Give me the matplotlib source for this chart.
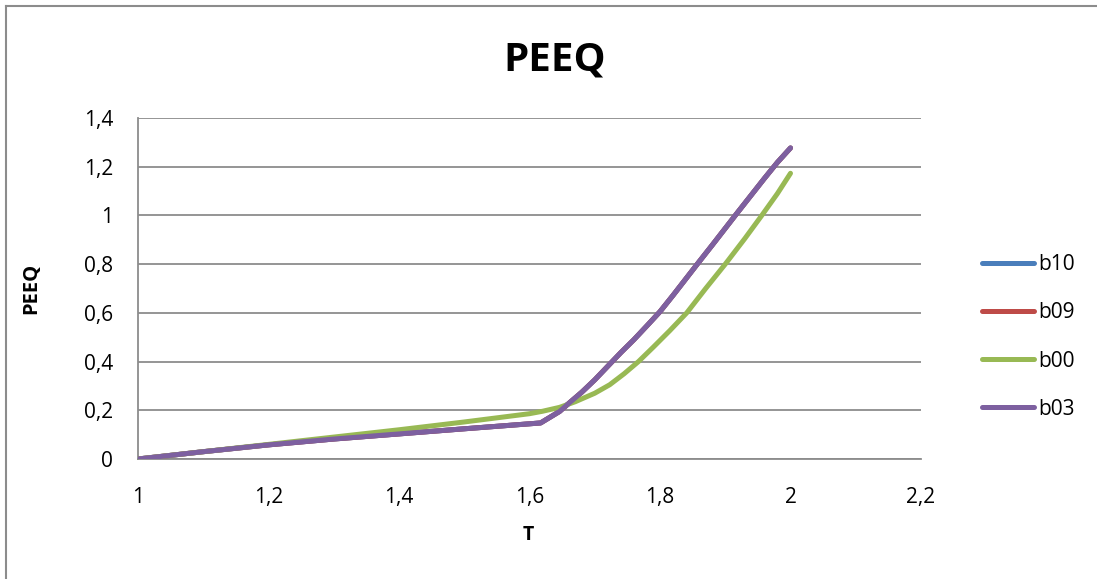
import matplotlib
matplotlib.use("Agg")
import matplotlib.pyplot as plt
from matplotlib.lines import Line2D

plt.rcParams['font.family'] = ['Open Sans', 'DejaVu Sans']

# Data
t_b03 = [1.0, 1.1, 1.2, 1.3, 1.4, 1.5, 1.617, 1.646, 1.66, 1.68, 1.70, 1.72, 1.74, 1.76, 1.78,
         1.80, 1.82, 1.84, 1.86, 1.88, 1.90, 1.92, 1.94, 1.96, 1.98, 2.0]
peeq_b03 = [0.0, 0.030, 0.058, 0.082, 0.103, 0.124, 0.148, 0.195, 0.228, 0.274, 0.325, 0.381, 0.437, 0.490, 0.547,
            0.605, 0.672, 0.741, 0.810, 0.878, 0.947, 1.016, 1.084, 1.152, 1.218, 1.277]
t_b10 = t_b03
peeq_b10 = peeq_b03
t_b09 = t_b03
peeq_b09 = peeq_b03
t_b00 = [1.0, 1.1, 1.2, 1.3, 1.4, 1.5, 1.6, 1.62, 1.646, 1.67, 1.70, 1.723, 1.745, 1.767, 1.79,
         1.815, 1.841, 1.87, 1.90, 1.93, 1.956, 1.98, 2.0]
peeq_b00 = [0.0, 0.030, 0.060, 0.090, 0.120, 0.152, 0.186, 0.196, 0.212, 0.235, 0.270, 0.305, 0.350, 0.400, 0.460,
            0.527, 0.600, 0.700, 0.800, 0.905, 1.000, 1.090, 1.173]

series_names = ['b10', 'b09', 'b00', 'b03']
series_colors = ['#4A7EBB', '#BE4B48', '#98B954', '#7D60A0']
x_ticks = [1, 1.2, 1.4, 1.6, 1.8, 2, 2.2]
x_tick_labels = ['1', '1,2', '1,4', '1,6', '1,8', '2', '2,2']
y_ticks = [0, 0.2, 0.4, 0.6, 0.8, 1.0, 1.2, 1.4]
y_tick_labels = ['0', '0,2', '0,4', '0,6', '0,8', '1', '1,2', '1,4']

W, H = 1097, 579
fig = plt.figure(figsize=(W / 100, H / 100), dpi=100)
ax = fig.add_axes([138 / W, 1 - 459 / H, (921 - 138) / W, (459 - 118) / H])

data = [(t_b10, peeq_b10), (t_b09, peeq_b09), (t_b00, peeq_b00), (t_b03, peeq_b03)]
for (tx, py), name, col in zip(data, series_names, series_colors):
    ax.plot(tx, py, color=col, lw=3.6, solid_capstyle='round', solid_joinstyle='round', label=name, zorder=3)

ax.set_xlim(1, 2.2)
ax.set_ylim(0, 1.4)
ax.set_xticks(x_ticks)
ax.set_xticklabels(x_tick_labels)
ax.set_yticks(y_ticks)
ax.set_yticklabels(y_tick_labels)
ax.tick_params(axis='both', length=0, labelsize=15, colors='black')
ax.tick_params(axis='x', pad=20)
ax.tick_params(axis='y', pad=18)
ax.grid(axis='y', color='#8C8C8C', lw=1.3, zorder=1)
for s in ['top', 'right']:
    ax.spines[s].set_visible(False)
for s in ['left', 'bottom']:
    ax.spines[s].set_color('#8C8C8C')
    ax.spines[s].set_linewidth(1.3)

fig.text(528 / W, 1 - 535 / H, 'T', fontsize=14, fontweight='bold', ha='center', va='center')
fig.text(31 / W, 1 - 288 / H, 'PEEQ', fontsize=14.5, fontweight='bold', ha='center', va='center', rotation=90)

fig.text(555 / W, 1 - 60 / H, 'PEEQ', fontsize=29, fontweight='bold', ha='center', va='center')

handles = [Line2D([0], [0], color=c, lw=3.6, solid_capstyle='round') for c in series_colors]
leg = fig.legend(handles, series_names, loc='center left', bbox_to_anchor=(963 / W, 1 - 337 / H),
                 frameon=False, fontsize=15, handlelength=2.5, handletextpad=0.2, labelspacing=1.3)

# outer chart border (left/top visible)
fig.add_artist(Line2D([5.5 / W, 5.5 / W], [0, 1 - 5.5 / H], color='#8C8C8C', lw=1.5, transform=fig.transFigure))
fig.add_artist(Line2D([5.5 / W, 1], [1 - 5.5 / H, 1 - 5.5 / H], color='#8C8C8C', lw=1.5, transform=fig.transFigure))

fig.savefig('out.png', dpi=100)
